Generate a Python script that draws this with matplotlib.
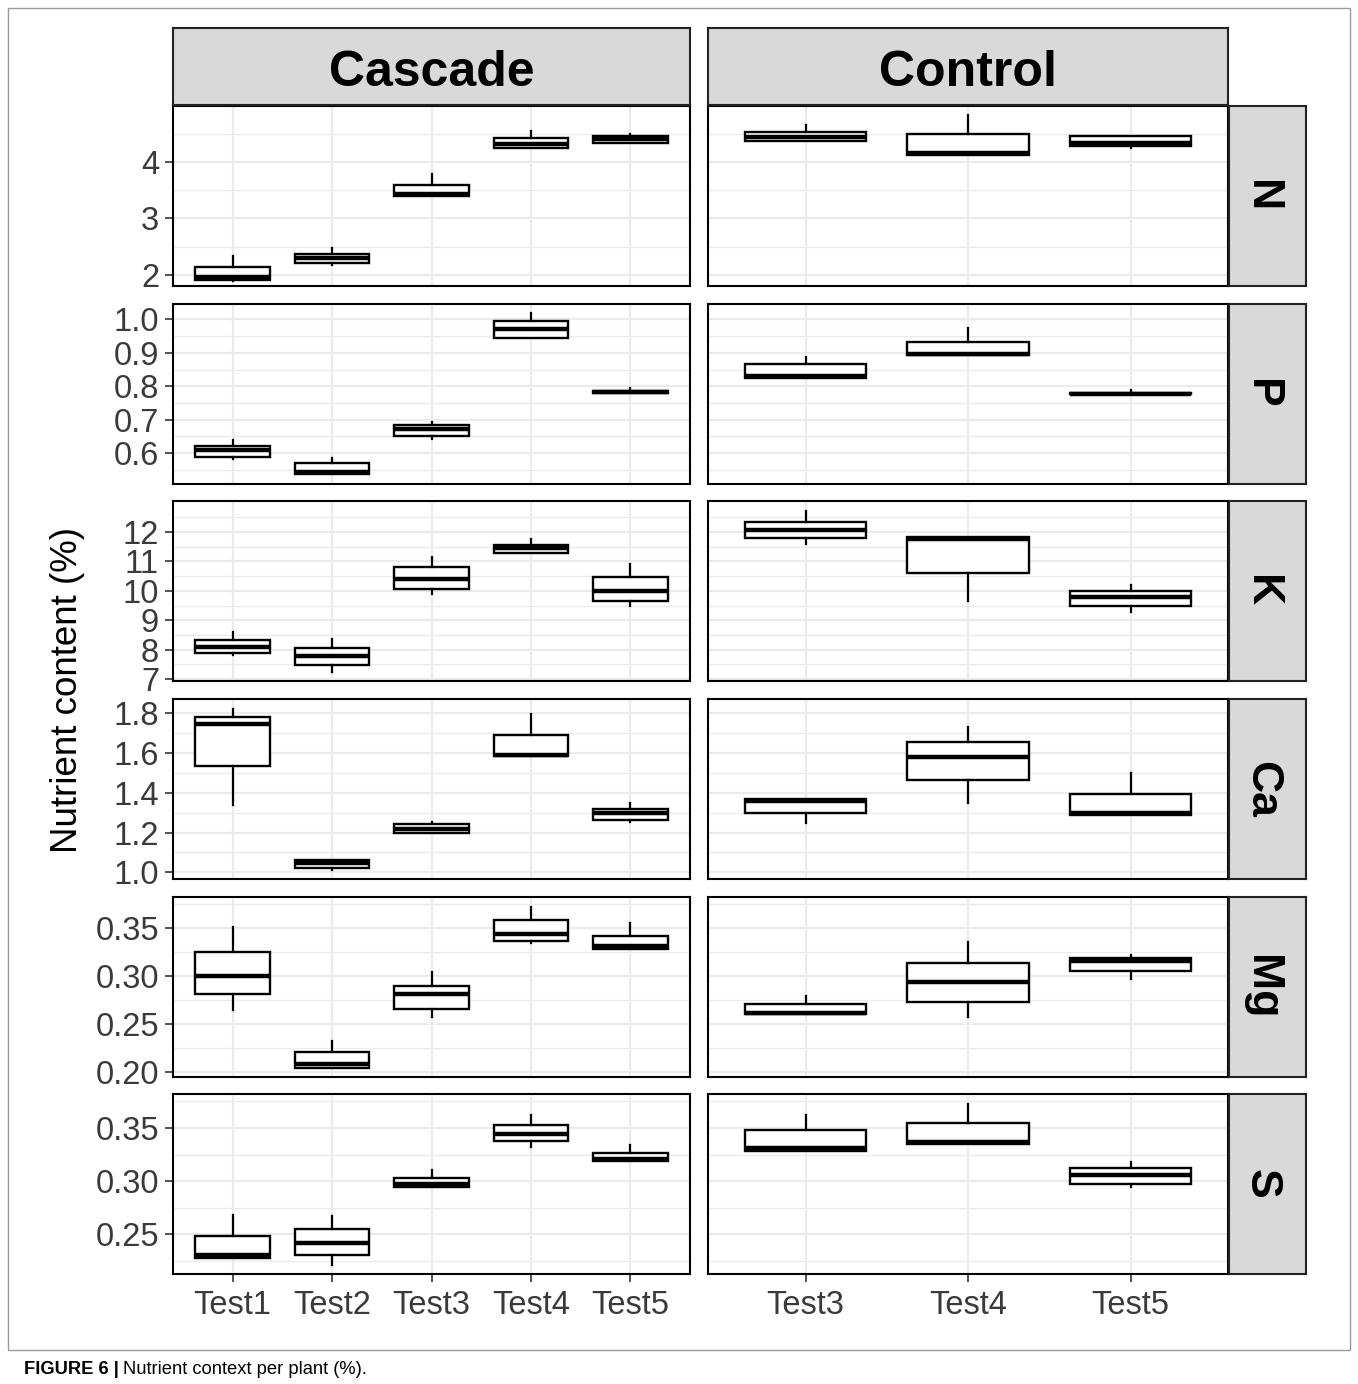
import matplotlib.pyplot as plt
from matplotlib.patches import Rectangle

plt.rcParams["font.family"] = ["Liberation Sans", "DejaVu Sans"]

W, H = 1358, 1384

groups = ["Cascade", "Control"]
nutrients = ["N", "P", "K", "Ca", "Mg", "S"]
cascade_tests = ["Test1", "Test2", "Test3", "Test4", "Test5"]
control_tests = ["Test3", "Test4", "Test5"]

# five-number summaries per box: [lower whisker, q1, median, q3, upper whisker]
N_cascade = [[1.90, 1.905, 1.96, 2.14, 2.33], [2.17, 2.21, 2.30, 2.375, 2.48],
             [3.39, 3.39, 3.43, 3.60, 3.79], [4.25, 4.25, 4.32, 4.42, 4.55],
             [4.34, 4.34, 4.40, 4.46, 4.50]]
N_control = [[4.37, 4.37, 4.45, 4.53, 4.65], [4.12, 4.12, 4.16, 4.50, 4.83],
             [4.24, 4.29, 4.33, 4.46, 4.46]]
P_cascade = [[0.583, 0.589, 0.610, 0.623, 0.639], [0.537, 0.537, 0.545, 0.570, 0.587],
             [0.643, 0.650, 0.672, 0.684, 0.693], [0.945, 0.945, 0.970, 0.994, 1.018],
             [0.781, 0.781, 0.784, 0.787, 0.796]]
P_control = [[0.824, 0.824, 0.830, 0.866, 0.889], [0.893, 0.893, 0.898, 0.931, 0.973],
             [0.776, 0.776, 0.778, 0.780, 0.790]]
K_cascade = [[7.80, 7.88, 8.10, 8.33, 8.60], [7.23, 7.46, 7.78, 8.07, 8.36],
             [9.90, 10.07, 10.40, 10.80, 11.16], [11.29, 11.29, 11.45, 11.57, 11.78],
             [9.47, 9.64, 9.98, 10.48, 10.92]]
K_control = [[11.60, 11.80, 12.08, 12.36, 12.72], [9.64, 10.60, 11.78, 11.83, 11.83],
             [9.28, 9.47, 9.78, 10.01, 10.20]]
Ca_cascade = [[1.336, 1.533, 1.745, 1.777, 1.817], [1.010, 1.023, 1.045, 1.062, 1.062],
              [1.200, 1.200, 1.220, 1.242, 1.255], [1.583, 1.583, 1.590, 1.690, 1.793],
              [1.252, 1.264, 1.300, 1.319, 1.347]]
Ca_control = [[1.249, 1.300, 1.360, 1.368, 1.368], [1.350, 1.463, 1.580, 1.654, 1.730],
              [1.289, 1.289, 1.298, 1.394, 1.499]]
Mg_cascade = [[0.265, 0.2816, 0.2996, 0.3246, 0.3507], [0.2042, 0.2042, 0.208, 0.2208, 0.232],
              [0.257, 0.266, 0.281, 0.290, 0.3038], [0.334, 0.336, 0.344, 0.358, 0.372],
              [0.328, 0.328, 0.331, 0.342, 0.3555]]
Mg_control = [[0.2605, 0.2605, 0.262, 0.271, 0.2796], [0.257, 0.273, 0.2938, 0.3136, 0.335],
              [0.2969, 0.3053, 0.316, 0.3188, 0.3222]]
S_cascade = [[0.228, 0.228, 0.230, 0.2479, 0.2677], [0.221, 0.230, 0.2421, 0.2547, 0.2672],
             [0.2947, 0.2947, 0.297, 0.3025, 0.310], [0.3325, 0.3375, 0.3447, 0.3525, 0.3625],
             [0.3187, 0.3187, 0.321, 0.3266, 0.3337]]
S_control = [[0.328, 0.328, 0.331, 0.3478, 0.3625], [0.3353, 0.3353, 0.3365, 0.3547, 0.3725],
             [0.2945, 0.297, 0.306, 0.312, 0.318]]

data = {"N": (N_cascade, N_control), "P": (P_cascade, P_control),
        "K": (K_cascade, K_control), "Ca": (Ca_cascade, Ca_control),
        "Mg": (Mg_cascade, Mg_control), "S": (S_cascade, S_control)}

ylims = {"N": (1.805, 4.99), "P": (0.508, 1.046), "K": (6.93, 13.06),
         "Ca": (0.967, 1.869), "Mg": (0.195, 0.382), "S": (0.2125, 0.382)}
yticks = {"N": [2, 3, 4], "P": [0.6, 0.7, 0.8, 0.9, 1.0], "K": [7, 8, 9, 10, 11, 12],
          "Ca": [1.0, 1.2, 1.4, 1.6, 1.8], "Mg": [0.20, 0.25, 0.30, 0.35],
          "S": [0.25, 0.30, 0.35]}
yfmt = {"N": "{:.0f}", "P": "{:.1f}", "K": "{:.0f}", "Ca": "{:.1f}", "Mg": "{:.2f}", "S": "{:.2f}"}

fig = plt.figure(figsize=(W / 100, H / 100), dpi=100)


def px_axes(x0, y0, x1, y1):
    return fig.add_axes([x0 / W, 1 - y1 / H, (x1 - x0) / W, (y1 - y0) / H])


col_x = [(173, 690), (708, 1228)]
row_top = [106, 304, 501, 699, 897, 1094]
row_h = 180
grid_c = "#EBEBEB"

for r, nut in enumerate(nutrients):
    y0 = row_top[r]
    lo, hi = ylims[nut]
    major = yticks[nut]
    step = major[1] - major[0]
    minor = [major[0] - step / 2] + [m + step / 2 for m in major]
    minor = [m for m in minor if lo < m < hi]
    for c in range(2):
        ax = px_axes(col_x[c][0], y0, col_x[c][1], y0 + row_h)
        cats = cascade_tests if c == 0 else control_tests
        summ = data[nut][c]
        stats = [dict(whislo=s[0], q1=s[1], med=s[2], q3=s[3], whishi=s[4], fliers=[])
                 for s in summ]
        pos = list(range(1, len(cats) + 1))
        ax.bxp(stats, positions=pos, widths=0.75, showcaps=False, patch_artist=True,
               boxprops=dict(facecolor="white", edgecolor="black", linewidth=1.7),
               whiskerprops=dict(color="black", linewidth=1.6),
               medianprops=dict(color="black", linewidth=3.2, solid_capstyle="butt"),
               zorder=3)
        ax.set_xlim(0.4, len(cats) + 0.6)
        ax.set_ylim(lo, hi)
        for m in minor:
            ax.axhline(m, color=grid_c, lw=1.0, zorder=0)
        for m in major:
            ax.axhline(m, color=grid_c, lw=1.6, zorder=0)
        for p in pos:
            ax.axvline(p, color=grid_c, lw=1.6, zorder=0)
        ax.set_yticks(major)
        ax.set_xticks(pos)
        for s in ax.spines.values():
            s.set_color("black")
            s.set_linewidth(1.5)
        ax.tick_params(length=5.5, width=1.2, color="#333333", labelsize=23.5,
                       labelcolor="#3A3A3A", pad=4.5)
        if c == 0:
            ax.set_yticklabels([yfmt[nut].format(v) for v in major])
        else:
            ax.tick_params(axis="y", length=0, labelleft=False)
        if r == len(nutrients) - 1:
            ax.set_xticklabels(cats)
            ax.tick_params(axis="x", pad=6)
        else:
            ax.tick_params(axis="x", length=0, labelbottom=False)

    # right strip
    sa = px_axes(1229, y0, 1306, y0 + row_h)
    sa.set_facecolor("#D9D9D9")
    sa.set_xticks([])
    sa.set_yticks([])
    for s in sa.spines.values():
        s.set_color("#222222")
        s.set_linewidth(1.5)
    sa.text(0.42, 0.5, nut, rotation=-90, ha="center", va="center", fontsize=32,
            fontweight="bold", transform=sa.transAxes)

# top strips
for c, g in enumerate(groups):
    sa = px_axes(col_x[c][0], 28, col_x[c][1], 105)
    sa.set_facecolor("#D9D9D9")
    sa.set_xticks([])
    sa.set_yticks([])
    for s in sa.spines.values():
        s.set_color("#222222")
        s.set_linewidth(1.5)
    sa.text(0.5, 0.42, g, ha="center", va="center", fontsize=36, fontweight="bold",
            transform=sa.transAxes)

fig.text(68 / W, 1 - 690 / H, "Nutrient content (%)", rotation=90, ha="center",
         va="center", fontsize=26.5, color="black")

# outer frame and caption
fig.patches.append(Rectangle((8 / W, 1 - 1350 / H), 1342 / W, 1342 / H,
                             transform=fig.transFigure, fill=False,
                             edgecolor="#9A9A9A", linewidth=1.0))
t1 = fig.text(24 / W, 1 - 1369 / H, "FIGURE 6 |", fontsize=13.2, fontweight="bold",
              va="center", ha="left")
fig.canvas.draw()
bb = t1.get_window_extent(fig.canvas.get_renderer())
fig.text(bb.x1 / W + 4 / W, 1 - 1369 / H, "Nutrient context per plant (%).",
         fontsize=13.2, va="center", ha="left")

fig.savefig("out.png", dpi=100)
